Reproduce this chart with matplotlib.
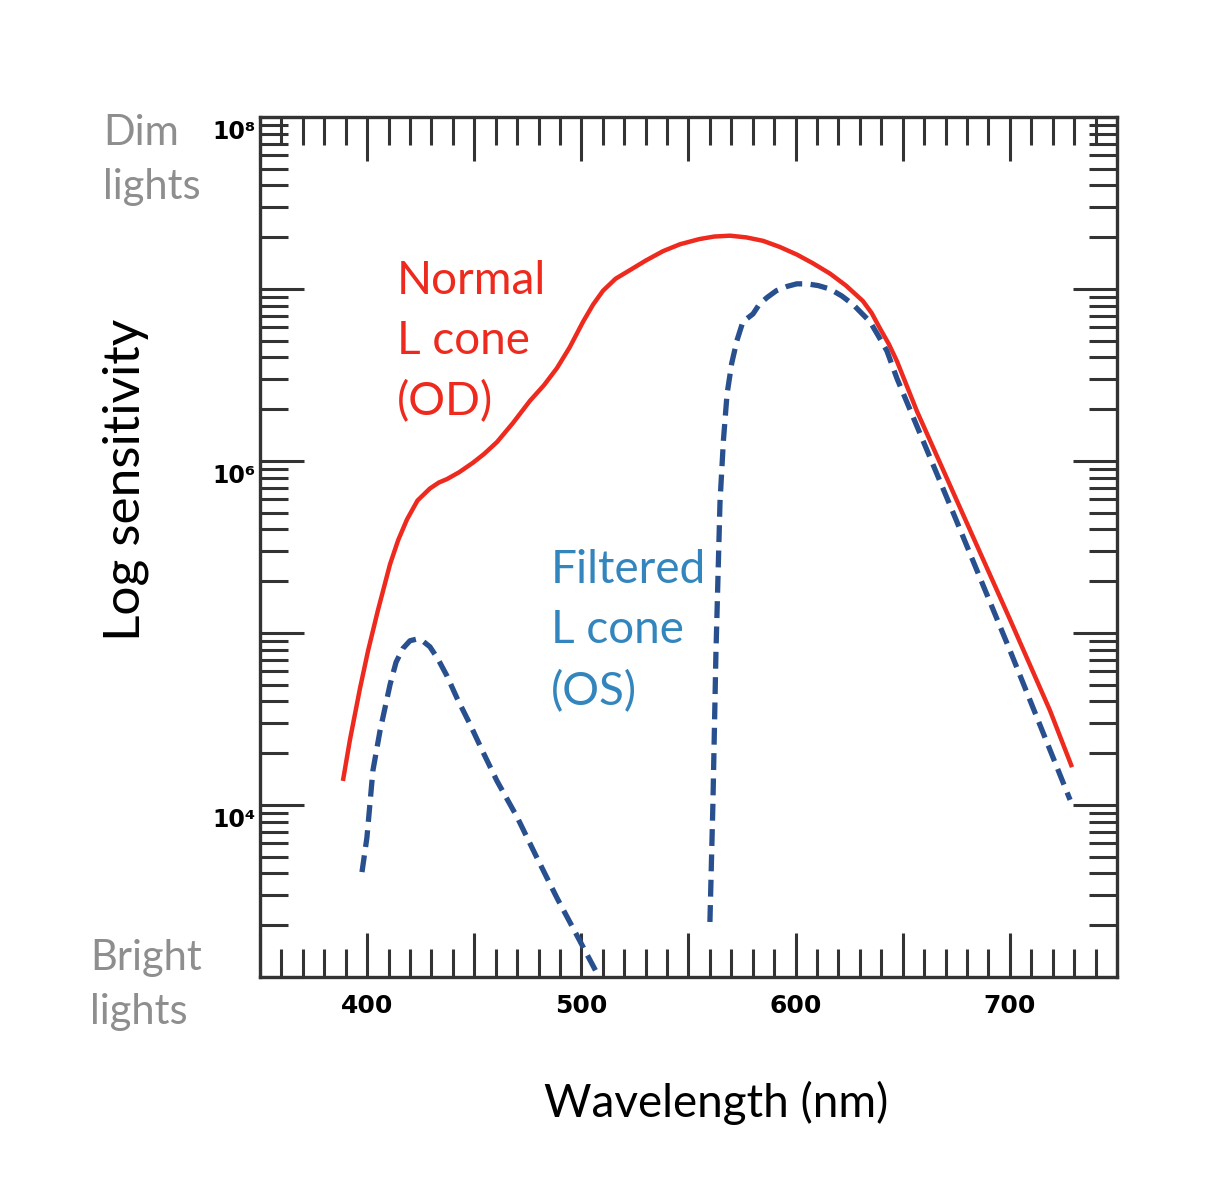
import numpy as np
import matplotlib
matplotlib.use("Agg")
import matplotlib.pyplot as plt
from matplotlib.ticker import MultipleLocator, FixedLocator, LogLocator, NullFormatter
from matplotlib.transforms import ScaledTranslation

plt.rcParams["font.family"] = ["Lato", "DejaVu Sans"]

# Normal L cone (OD) - wavelength (nm) and log10 sensitivity
red_wl = [388.7, 392.0, 396.7, 400.5, 405.0, 410.7, 414.5, 418.6, 423.5, 429.3,
          433.5, 437.3, 443.0, 449.4, 454.5, 460.6, 468.0, 476.0, 482.5, 488.6,
          494.5, 500.8, 505.5, 510.1, 516.0, 522.7, 530.0, 538.1, 546.0, 555.0,
          562.0, 569.4, 577.0, 584.8, 592.5, 600.6, 608.0, 616.0, 623.5, 631.4,
          635.5, 639.4, 643.5, 647.3, 656.6, 678.1, 700.0, 718.7, 729.0]
red_log = [4.14, 4.38, 4.68, 4.90, 5.13, 5.40, 5.54, 5.66, 5.77, 5.84,
           5.875, 5.895, 5.935, 5.99, 6.04, 6.11, 6.22, 6.35, 6.44, 6.54,
           6.66, 6.81, 6.91, 6.99, 7.06, 7.11, 7.165, 7.22, 7.26, 7.29,
           7.305, 7.31, 7.30, 7.28, 7.245, 7.20, 7.15, 7.09, 7.02, 6.93,
           6.86, 6.77, 6.68, 6.58, 6.29, 5.69, 5.08, 4.55, 4.22]

# Filtered L cone (OS), short-wave lobe
blue1_wl = [397.6, 399.9, 402.7, 406.0, 410.7, 413.5, 416.7, 420.0, 423.3,
            426.3, 429.3, 433.0, 437.3, 442.0, 448.0, 454.0, 460.6, 470.0,
            479.0, 488.6, 498.0, 507.8]
blue1_log = [3.61, 3.81, 4.20, 4.43, 4.70, 4.83, 4.91, 4.955, 4.965,
             4.95, 4.92, 4.85, 4.75, 4.62, 4.47, 4.31, 4.14, 3.93,
             3.70, 3.46, 3.24, 3.01]

# Filtered L cone (OS), long-wave lobe
blue2_wl = [560.0, 561.4, 562.8, 564.7, 566.3, 568.0, 570.2, 572.6, 575.4, 577.5,
            580.1, 583.0, 586.6, 591.0, 596.0, 600.5, 605.3, 610.5, 616.0, 621.5,
            626.8, 634.7, 638.5, 642.6, 647.3, 673.5, 700.0, 728.1]
blue2_log = [3.32, 4.01, 4.88, 5.76, 6.12, 6.39, 6.57, 6.70, 6.81, 6.83,
             6.855, 6.91, 6.95, 6.99, 7.015, 7.03, 7.03, 7.02, 7.00, 6.96,
             6.91, 6.81, 6.73, 6.64, 6.48, 5.70, 4.90, 4.03]

x_labels = [400, 500, 600, 700]
y_labels = {1e4: "10\u2074", 1e6: "10\u2076", 1e8: "10\u2078"}

red = "#ee2a1e"
navy = "#284f8e"
teal = "#3386bd"
grey = "#8e8e8e"
dark = "#333333"

fig = plt.figure(figsize=(12.29, 12), dpi=100)
ax = fig.add_axes([0.21155, 0.18583, 0.69732, 0.71667])

ax.plot(red_wl, 10 ** np.array(red_log), color=red, lw=3.2,
        solid_capstyle="butt", solid_joinstyle="round")
ax.plot(blue1_wl, 10 ** np.array(blue1_log), color=navy, lw=3.8,
        linestyle=(0, (3.2, 1.6)))
ax.plot(blue2_wl, 10 ** np.array(blue2_log), color=navy, lw=3.8,
        linestyle=(0, (3.2, 1.6)))

ax.set_yscale("log")
ax.set_xlim(350, 750)
ax.set_ylim(1e3, 1e8)

# x ticks: major every 50, minor every 10, labels every 100
ax.xaxis.set_major_locator(MultipleLocator(50))
ax.xaxis.set_minor_locator(MultipleLocator(10))
ax.xaxis.set_major_formatter(
    plt.FuncFormatter(lambda v, p: f"{int(v)}" if int(round(v)) in x_labels else ""))

# y ticks: decades, with minor 2..9
ax.yaxis.set_major_locator(FixedLocator([1e3, 1e4, 1e5, 1e6, 1e7, 1e8]))
ax.yaxis.set_minor_locator(LogLocator(base=10, subs=np.arange(2, 10)))
ax.yaxis.set_minor_formatter(NullFormatter())
ax.yaxis.set_major_formatter(plt.FuncFormatter(lambda v, p: y_labels.get(v, "")))

ax.tick_params(which="both", direction="in", top=True, right=True, color=dark)
ax.tick_params(which="major", length=32, width=2.2)
ax.tick_params(which="minor", length=20, width=2.2)
ax.tick_params(axis="x", which="major", pad=12)
ax.tick_params(axis="y", which="major", pad=3)

for lab in ax.get_xticklabels():
    lab.set_fontfamily("DejaVu Sans")
    lab.set_fontweight("bold")
    lab.set_fontsize(18)
for lab in ax.get_yticklabels():
    lab.set_fontfamily("DejaVu Sans")
    lab.set_fontweight("bold")
    lab.set_fontsize(17)
    lab.set_transform(lab.get_transform() + ScaledTranslation(0, -9 / 72, fig.dpi_scale_trans))

for sp in ax.spines.values():
    sp.set_linewidth(2.4)
    sp.set_color(dark)

ax.set_ylabel("Log sensitivity", fontsize=37, va="center")
ax.yaxis.set_label_coords(-0.157, 0.578)
ax.set_xlabel("Wavelength (nm)", fontsize=33, va="center")
ax.xaxis.set_label_coords(0.532, -0.1465)

ax.text(413.9, 10 ** 6.696, "Normal\nL cone\n(OD)", color=red, fontsize=33,
        ha="left", va="center", linespacing=1.53)
ax.text(485.8, 10 ** 5.012, "Filtered\nL cone\n(OS)", color=teal, fontsize=33,
        ha="left", va="center", linespacing=1.53)

fig.text(103 / 1229, 1 - 160 / 1200, "Dim\nlights", color=grey, fontsize=30,
         ha="left", va="center", linespacing=1.5)
fig.text(90 / 1229, 1 - 985 / 1200, "Bright\nlights", color=grey, fontsize=30,
         ha="left", va="center", linespacing=1.5)

fig.savefig("out.png", dpi=100, facecolor="white")
